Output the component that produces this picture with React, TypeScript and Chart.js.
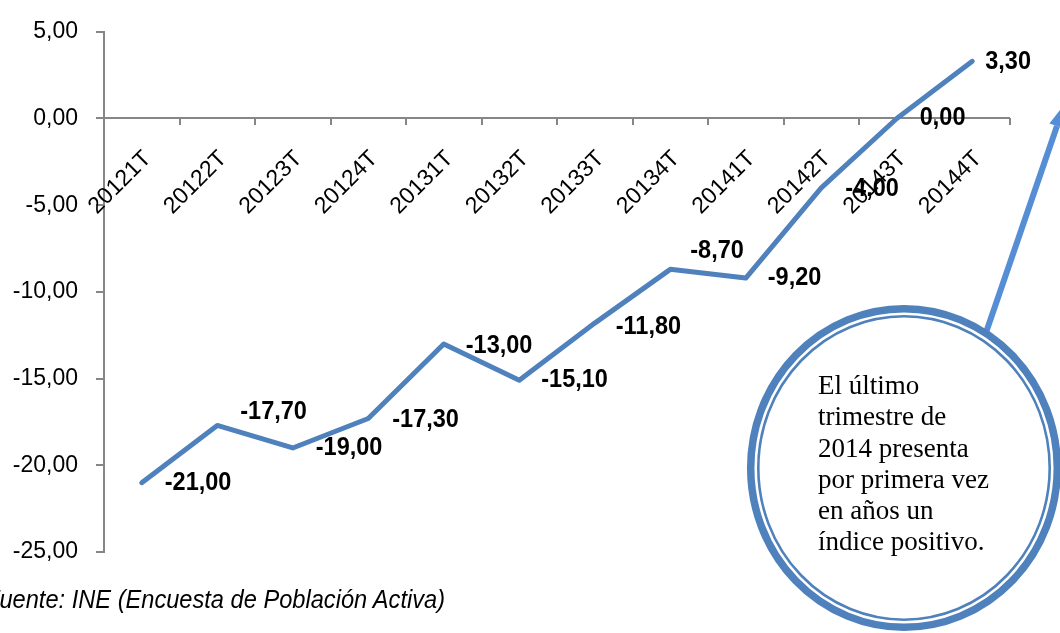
import React, { useEffect, useRef } from "react";
import { Chart, registerables } from "chart.js";

Chart.register(...registerables);

// ---- data ----
const categories = [
  "20121T", "20122T", "20123T", "20124T",
  "20131T", "20132T", "20133T", "20134T",
  "20141T", "20142T", "20143T", "20144T",
];
const values = [-21.0, -17.7, -19.0, -17.3, -13.0, -15.1, -11.8, -8.7, -9.2, -4.0, 0.0, 3.3];
const yMin = -25;
const yMax = 5;
const yStep = 5;

// ---- label layout (offsets from each point, px) ----
const labelDx = [23, 23, 23, 24, 22, 22, 21, 20, 22, 24, 23, 13];
const labelDy = [0, -13, 0, 2, 2, 0, 4, -18, 0, 1, 0, 1];

const calloutLines = [
  "El último",
  "trimestre de",
  "2014 presenta",
  "por primera vez",
  "en años un",
  "índice positivo.",
];
const sourceText = "Fuente: INE (Encuesta de Población Activa)";

const fmt = (v: number) => v.toFixed(2).replace(".", ",");

const AXIS_COLOR = "#868686";
const LINE_COLOR = "#4F81BD";

const zeroAxisPlugin = {
  id: "zeroAxis",
  beforeDatasetsDraw(chart: any) {
    const { ctx, chartArea, scales } = chart;
    const x = scales.x;
    const y = scales.y;
    const y0 = Math.round(y.getPixelForValue(0));
    ctx.save();
    ctx.strokeStyle = AXIS_COLOR;
    ctx.lineWidth = 2;
    ctx.beginPath();
    ctx.moveTo(chartArea.left, y0);
    ctx.lineTo(chartArea.right, y0);
    const n = categories.length;
    const half = (x.getPixelForValue(1) - x.getPixelForValue(0)) / 2;
    for (let i = 0; i <= n; i++) {
      const px = Math.round(i < n ? x.getPixelForValue(i) - half : x.getPixelForValue(n - 1) + half);
      ctx.moveTo(px, y0);
      ctx.lineTo(px, y0 + 7);
    }
    ctx.stroke();

    ctx.fillStyle = "#000";
    ctx.font = '23px "Liberation Sans", Arial, sans-serif';
    ctx.textAlign = "right";
    ctx.textBaseline = "middle";
    categories.forEach((c, i) => {
      const px = x.getPixelForValue(i);
      ctx.save();
      ctx.translate(px + 6, y0 + 37);
      ctx.rotate(-Math.PI / 4);
      ctx.fillText(c, 0, 0);
      ctx.restore();
    });
    ctx.restore();
  },
  afterDatasetsDraw(chart: any) {
    const { ctx } = chart;
    const meta = chart.getDatasetMeta(0);
    ctx.save();
    ctx.fillStyle = "#000";
    ctx.font = 'bold 25px "Liberation Sans", Arial, sans-serif';
    ctx.textAlign = "left";
    ctx.textBaseline = "middle";
    meta.data.forEach((pt: any, i: number) => {
      ctx.save();
      ctx.translate(pt.x + labelDx[i], pt.y + labelDy[i]);
      ctx.scale(0.94, 1);
      ctx.fillText(fmt(values[i]), 0, 0);
      ctx.restore();
    });
    ctx.restore();
  },
};

function LineChart() {
  const ref = useRef<HTMLCanvasElement | null>(null);
  useEffect(() => {
    if (!ref.current) return;
    const chart = new Chart(ref.current, {
      type: "line",
      data: {
        labels: categories,
        datasets: [
          {
            data: values,
            borderColor: LINE_COLOR,
            borderWidth: 5,
            pointRadius: 0,
            pointHoverRadius: 0,
            tension: 0,
            fill: false,
            borderJoinStyle: "round",
            borderCapStyle: "round",
          },
        ],
      },
      options: {
        responsive: false,
        animation: false,
        events: [],
        layout: { padding: { top: 30, right: 50, bottom: 81, left: 0 } },
        plugins: {
          legend: { display: false },
          tooltip: { enabled: false },
          title: { display: false },
        },
        scales: {
          x: {
            type: "category",
            display: false,
            offset: true,
          },
          y: {
            min: yMin,
            max: yMax,
            afterFit: (scale: any) => {
              scale.width = 104;
            },
            ticks: {
              stepSize: yStep,
              color: "#000",
              padding: 18,
              font: { family: '"Liberation Sans", Arial, sans-serif', size: 23 },
              callback: (v: any) => fmt(Number(v)),
            },
            grid: {
              display: true,
              drawOnChartArea: false,
              drawTicks: true,
              tickLength: 8,
              color: AXIS_COLOR,
              lineWidth: 2,
            },
            border: { display: true, color: AXIS_COLOR, width: 2 },
          },
        },
      },
      plugins: [zeroAxisPlugin],
    } as any);
    return () => chart.destroy();
  }, []);
  return <canvas ref={ref} width={1060} height={633} style={{ position: "absolute", left: 0, top: 0 }} />;
}

function Callout() {
  // arrow geometry
  const bx = 1057, by = 126;
  const dx = 0.315, dy = -0.949;
  const nx = 0.949, ny = 0.315;
  const hw = 8, hl = 22;
  const tip = [bx + dx * hl, by + dy * hl];
  const w1 = [bx - nx * hw, by - ny * hw];
  const w2 = [bx + nx * hw, by + ny * hw];
  return (
    <>
      <svg width={1060} height={633} style={{ position: "absolute", left: 0, top: 0 }}>
        <line x1={980} y1={350} x2={bx} y2={by} stroke="#558ED5" strokeWidth={6} />
        <polygon points={`${tip[0]},${tip[1]} ${w1[0]},${w1[1]} ${w2[0]},${w2[1]}`} fill="#558ED5" />
        <ellipse cx={904} cy={468} rx={153.3} ry={159.3} fill="#fff" stroke="#4F81BD" strokeWidth={7.5} />
        <ellipse cx={904} cy={468} rx={145.7} ry={151.7} fill="none" stroke="#4F81BD" strokeWidth={2.6} />
      </svg>
      <div
        style={{
          position: "absolute",
          left: 818,
          top: 370,
          fontFamily: '"Liberation Serif", "Times New Roman", serif',
          fontSize: "27px",
          lineHeight: "31.3px",
          color: "#000",
          whiteSpace: "nowrap",
        }}
      >
        {calloutLines.map((l, i) => (
          <div key={i}>{l}</div>
        ))}
      </div>
    </>
  );
}

export default function App() {
  return (
    <div
      style={{
        position: "fixed",
        left: 0,
        top: 0,
        width: 1060,
        height: 633,
        overflow: "hidden",
        background: "#fff",
      }}
    >
      <LineChart />
      <Callout />
      <div
        style={{
          position: "absolute",
          left: -15,
          top: 587,
          fontFamily: '"Liberation Sans", Arial, sans-serif',
          fontStyle: "italic",
          fontSize: "25px",
          lineHeight: "25px",
          color: "#000",
          whiteSpace: "nowrap",
          transform: "scaleX(0.945)",
          transformOrigin: "left top",
        }}
      >
        {sourceText}
      </div>
    </div>
  );
}
